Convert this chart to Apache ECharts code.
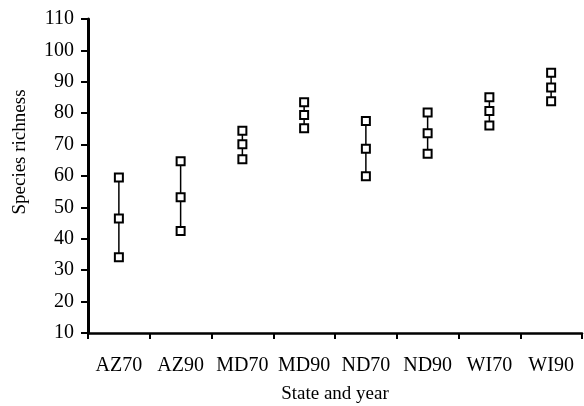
<!DOCTYPE html>
<html>
<head>
<meta charset="utf-8">
<script src="https://cdn.jsdelivr.net/npm/echarts@6/dist/echarts.min.js"></script>
<style>
  html, body { margin: 0; padding: 0; background: #fff; }
  #chart { width: 584px; height: 406px; }
</style>
</head>
<body>
<div id="chart"></div>
<script>
// state + year groups
const categories = ['AZ70', 'AZ90', 'MD70', 'MD90', 'ND70', 'ND90', 'WI70', 'WI90'];
// lower, middle, upper squares
const lowValues = [34.1, 42.5, 65.3, 75.2, 59.9, 67.1, 76.1, 83.8];
const meanValues = [46.5, 53.2, 70.1, 79.4, 68.7, 73.6, 80.7, 88.2];
const highValues = [59.5, 64.7, 74.4, 83.5, 77.5, 80.2, 85.1, 92.9];

const font = 'Liberation Serif';

const rangeData = categories.map(function (c, i) {
  return [i, lowValues[i], highValues[i]];
});

function squares(vals) {
  return {
    type: 'scatter',
    data: vals.map(function (v, i) { return [i, v]; }),
    symbol: 'rect',
    symbolSize: 8,
    itemStyle: { color: '#fff', borderColor: '#000', borderWidth: 2, opacity: 1 },
    z: 5,
    silent: true
  };
}

const myChart = echarts.init(document.getElementById('chart'));
const option = {
  animation: false,
  backgroundColor: '#fff',
  grid: { left: 88, right: 2, top: 19, bottom: 73, outerBoundsMode: 'none', containLabel: false },
  xAxis: {
    type: 'category',
    data: categories,
    boundaryGap: true,
    name: 'State and year',
    nameLocation: 'middle',
    nameGap: 52,
    nameTextStyle: { fontFamily: font, fontSize: 19, color: '#000' },
    axisLine: { lineStyle: { color: '#000', width: 2.5 } },
    axisTick: { show: true, inside: false, length: 6, lineStyle: { color: '#000', width: 2 } },
    axisLabel: { fontFamily: font, fontSize: 20, color: '#000', margin: 23, interval: 0, hideOverlap: false },
    splitLine: { show: false }
  },
  yAxis: {
    type: 'value',
    min: 10,
    max: 110,
    interval: 10,
    name: 'Species richness',
    nameLocation: 'middle',
    nameGap: 58,
    nameRotate: 90,
    nameTextStyle: { fontFamily: font, fontSize: 19, color: '#000', padding: [0, 0, 0, 48] },
    axisLine: { show: true, lineStyle: { color: '#000', width: 3 } },
    axisTick: { show: true, length: 7, lineStyle: { color: '#000', width: 2 } },
    axisLabel: { fontFamily: font, fontSize: 20, color: '#000', margin: 14 },
    splitLine: { show: false }
  },
  series: [
    {
      type: 'custom',
      data: rangeData,
      silent: true,
      z: 2,
      renderItem: function (params, api) {
        const lo = api.coord([api.value(0), api.value(1)]);
        const hi = api.coord([api.value(0), api.value(2)]);
        return {
          type: 'line',
          shape: { x1: lo[0], y1: lo[1], x2: hi[0], y2: hi[1] },
          style: { stroke: '#000', lineWidth: 1.5 }
        };
      }
    },
    squares(lowValues),
    squares(meanValues),
    squares(highValues)
  ]
};
myChart.setOption(option);
</script>
</body>
</html>
